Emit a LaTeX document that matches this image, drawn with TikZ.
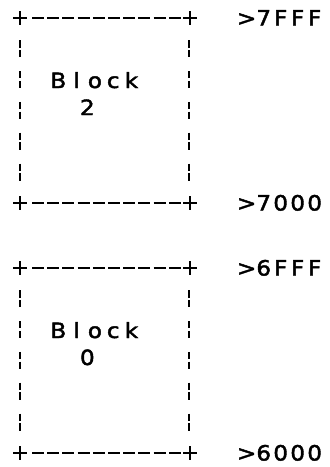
\documentclass[tikz,border=0pt]{standalone}
\usepackage{fontspec}
\newfontfamily\dotfont[FakeStretch=1.1,FakeBold=2]{DejaVu Sans}
\newlength\cellwd
\newcommand\cellch[1]{\makebox[\cellwd]{#1}}
\begin{document}
\begin{tikzpicture}[x=1pt,y=-1pt,
  plusrule/.style={line width=2.8pt,black},
  vrule/.style={line width=2.6pt,black},
  hdash/.style={line width=2.4pt,black,dash pattern=on 12pt off 3.2pt},
  txt/.style={font=\dotfont\fontsize{21}{21}\selectfont,inner sep=0pt,anchor=base west},
  lbl/.style={txt,execute at begin node={\setlength\cellwd{17pt}}},
  blk/.style={txt,execute at begin node={\setlength\cellwd{18.3pt}}}]
\useasboundingbox (0,0) rectangle (330,467);
\foreach \T/\B in {18/203,268/453}{
  \foreach \y in {\T,\B}{
    \draw[plusrule] (13,\y)--(27,\y) (20,\y-7)--(20,\y+7);
    \draw[plusrule] (183,\y)--(197,\y) (190,\y-7)--(190,\y+7);
    \draw[hdash] (32,\y)--(181,\y);
  }
  \foreach \k in {1,...,5}{
    \foreach \x in {20,189}{
      \draw[vrule] (\x,\T+30.8*\k-8.5)--(\x,\T+30.8*\k-1.2)
                   (\x,\T+30.8*\k+1.2)--(\x,\T+30.8*\k+8.5);
    }
  }
}
\node[blk] (blockA) at (49,88) {\cellch{B}\cellch{l}\cellch{o}\cellch{c}\cellch{k}};
\node[blk] (numA) at (78,115) {\cellch{2}};
\node[blk] (blockB) at (49,338) {\cellch{B}\cellch{l}\cellch{o}\cellch{c}\cellch{k}};
\node[blk] (numB) at (78,365) {\cellch{0}};
\node[lbl] (a7fff) at (238,25.5) {\cellch{>}\cellch{7}\cellch{F}\cellch{F}\cellch{F}};
\node[lbl] (a7000) at (238,210.5) {\cellch{>}\cellch{7}\cellch{0}\cellch{0}\cellch{0}};
\node[lbl] (a6fff) at (238,275.5) {\cellch{>}\cellch{6}\cellch{F}\cellch{F}\cellch{F}};
\node[lbl] (a6000) at (238,460.5) {\cellch{>}\cellch{6}\cellch{0}\cellch{0}\cellch{0}};
\end{tikzpicture}
\end{document}
